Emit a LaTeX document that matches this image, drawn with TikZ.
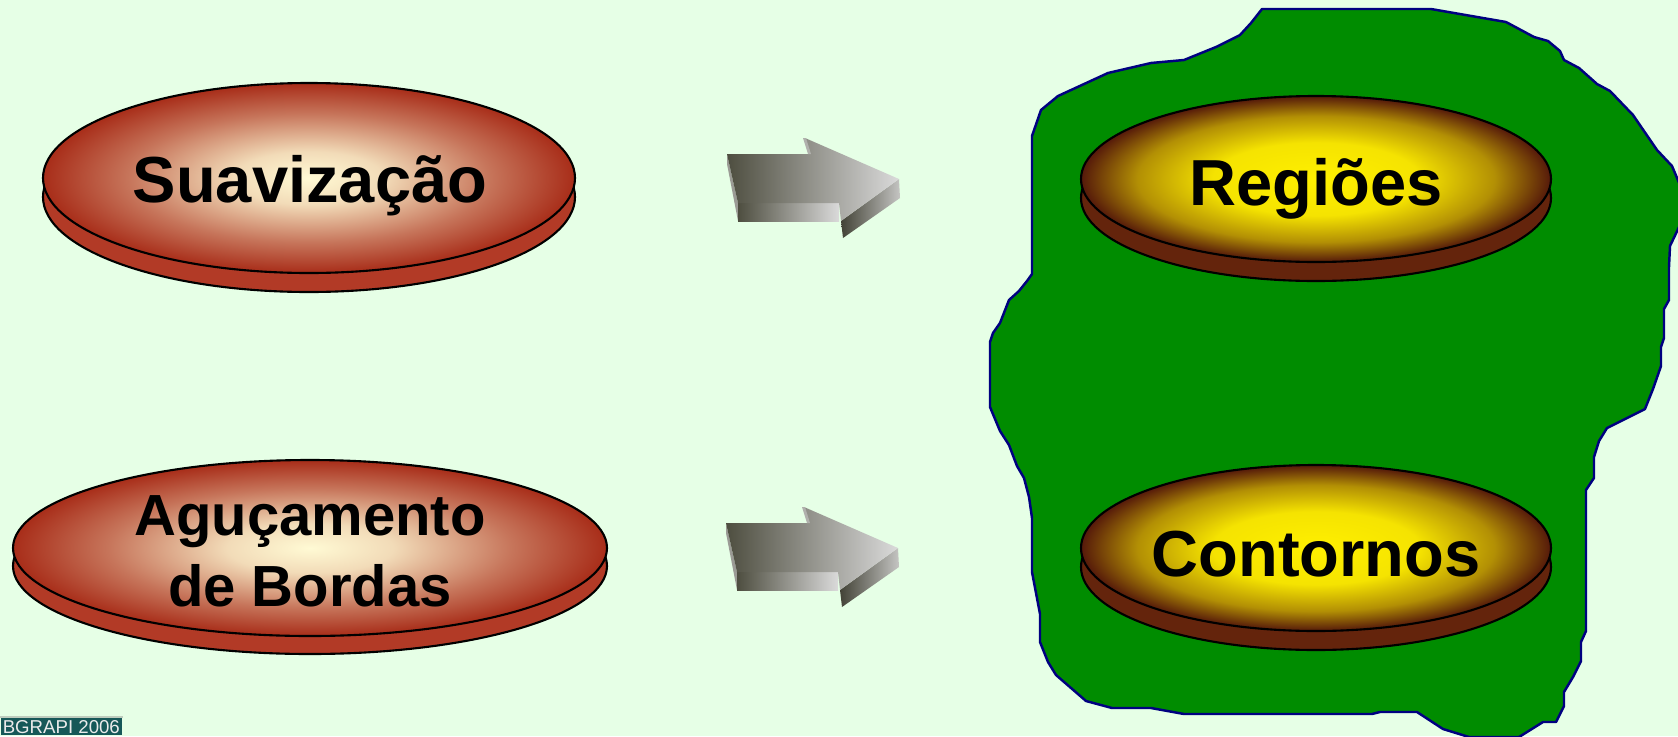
\documentclass[tikz,border=0pt]{standalone}
\usepackage{fontspec}
\setmainfont{Liberation Sans}
\usetikzlibrary{positioning}
\definecolor{bgmint}    {RGB}{230,255,230}
\definecolor{blobgreen} {RGB}{0,140,0}
\definecolor{blobnavy}  {RGB}{0,0,128}
\definecolor{cream}     {RGB}{255,250,212}
\definecolor{brick}     {RGB}{168,45,25}
\definecolor{brickbase} {RGB}{178,58,38}
\definecolor{lemon}     {RGB}{255,240,0}
\definecolor{umber}     {RGB}{85,25,10}
\definecolor{umberbase} {RGB}{100,36,12}
\definecolor{arrowdark} {RGB}{78,78,64}
\definecolor{arrowlight}{RGB}{218,218,218}
\definecolor{logoteal}  {RGB}{22,88,88}
\definecolor{logoline}  {RGB}{190,205,190}

\pgfdeclareradialshading{brickglow}{\pgfpoint{0bp}{0bp}}{color(0bp)=(cream); color(7bp)=(cream!85!brick); color(17bp)=(cream!35!brick); color(25bp)=(brick); color(50bp)=(brick)}
\pgfdeclareradialshading{lemonglow}{\pgfpoint{0bp}{0bp}}{color(0bp)=(lemon); color(11bp)=(lemon!94!umber); color(19bp)=(lemon!55!umber); color(25bp)=(umber); color(50bp)=(umber)}

\tikzset{
  disc edge/.style={draw=black, line width=0.6pt},
  disc label/.style={font=\fontsize{18.5}{22}\selectfont\bfseries, align=center, inner sep=0pt},
}

% grey 3d arrow, #1 = top left corner of its shaft
\newcommand{\greyarrow}[1]{%
  \begin{scope}[shift={#1}]
    \fill[arrowlight!55!arrowdark] (0,0) -- (11,49) -- (11,67) -- (0,10) -- cycle;
    \shade[left color=arrowdark, right color=arrowlight] (11,49) -- (112,49) -- (112,67) -- (11,67) -- cycle;
    \shade[left color=arrowdark!85!black, right color=arrowlight!85!arrowdark] (114,67) -- (172,25) -- (173,44) -- (116,84) -- cycle;
    \shade[left color=arrowdark, right color=arrowlight] (0,0) -- (83,0) -- (78,-16) -- (172,25) -- (114,67) -- (112,49) -- (11,49) -- cycle;
    \fill[arrowlight!70!arrowdark] (76,-16) -- (79,-16) -- (84,0) -- (81,0) -- cycle;
  \end{scope}}

\begin{document}
\begin{tikzpicture}[x=0.01cm, y=-0.01cm]
  \useasboundingbox (0,0) rectangle (1678,736);
  \fill[bgmint] (0,0) rectangle (1678,736);

  % green area behind the results
  \filldraw[fill=blobgreen, draw=blobnavy, line width=0.7pt, line join=round]
    (1262,9) -- (1431,9) -- (1506,22) -- (1534,37) -- (1548,41) -- (1560,51) -- (1564,60)
    -- (1579,68) -- (1597,84) -- (1610,91) -- (1633,115) -- (1657,150) -- (1672,166)
    -- (1680,185) -- (1680,225) -- (1670,246) -- (1669,267) -- (1669,300) -- (1664,309)
    -- (1664,338) -- (1661,347) -- (1661,366) -- (1653,389) -- (1645,409) -- (1607,428)
    -- (1599,441) -- (1594,457) -- (1594,478) -- (1586,490) -- (1586,631) -- (1581,642)
    -- (1581,661) -- (1573,677) -- (1564,692) -- (1564,706) -- (1556,722) -- (1543,722)
    -- (1519,737) -- (1469,737) -- (1443,729) -- (1417,712) -- (1380,712) -- (1372,714)
    -- (1184,714) -- (1151,708) -- (1112,708) -- (1086,701) -- (1056,675) -- (1048,662)
    -- (1040,642) -- (1040,614) -- (1032,572) -- (1032,518) -- (1029,497) -- (1024,478)
    -- (1017,466) -- (1009,445) -- (1000,431) -- (990,407) -- (990,342) -- (993,333)
    -- (1000,323) -- (1009,300) -- (1019,291) -- (1027,281) -- (1032,274) -- (1032,136)
    -- (1041,110) -- (1058,96) -- (1108,73) -- (1151,63) -- (1184,60) -- (1216,47)
    -- (1240,35) -- (1251,23) -- cycle;

  % operations
  \filldraw[disc edge, fill=brickbase] (309,197) ellipse [x radius=266, y radius=95];
  \shadedraw[disc edge, shading=brickglow] (309,178) ellipse [x radius=266, y radius=95];
  \node[disc label] (suav) at (310,186) {Suavização};

  \filldraw[disc edge, fill=brickbase] (310,566) ellipse [x radius=297, y radius=88];
  \shadedraw[disc edge, shading=brickglow] (310,548) ellipse [x radius=297, y radius=88];
  \node[disc label, font=\fontsize{16.5}{20.2}\selectfont\bfseries] (agu) at (310,551) {Aguçamento\\de Bordas};

  % results
  \filldraw[disc edge, fill=umberbase] (1316,198) ellipse [x radius=235, y radius=83];
  \shadedraw[disc edge, shading=lemonglow] (1316,179) ellipse [x radius=235, y radius=83];
  \node[disc label] (reg) at (1316,189) {Regiões};

  \filldraw[disc edge, fill=umberbase] (1316,567) ellipse [x radius=235, y radius=83];
  \shadedraw[disc edge, shading=lemonglow] (1316,548) ellipse [x radius=235, y radius=83];
  \node[disc label] (cont) at (1316,554) {Contornos};

  % arrows
  \greyarrow{(727,154)}
  \greyarrow{(726,523)}

  \node[fill=logoteal, text=white!92!black, font=\fontsize{5.3}{6}\selectfont,
        inner xsep=0.6pt, inner ysep=0.6pt, anchor=south west] (logo) at (0,736) {BGRAPI 2006};
  \draw[logoline, line width=0.6pt] (logo.north west) -- (logo.north east);
\end{tikzpicture}
\end{document}
